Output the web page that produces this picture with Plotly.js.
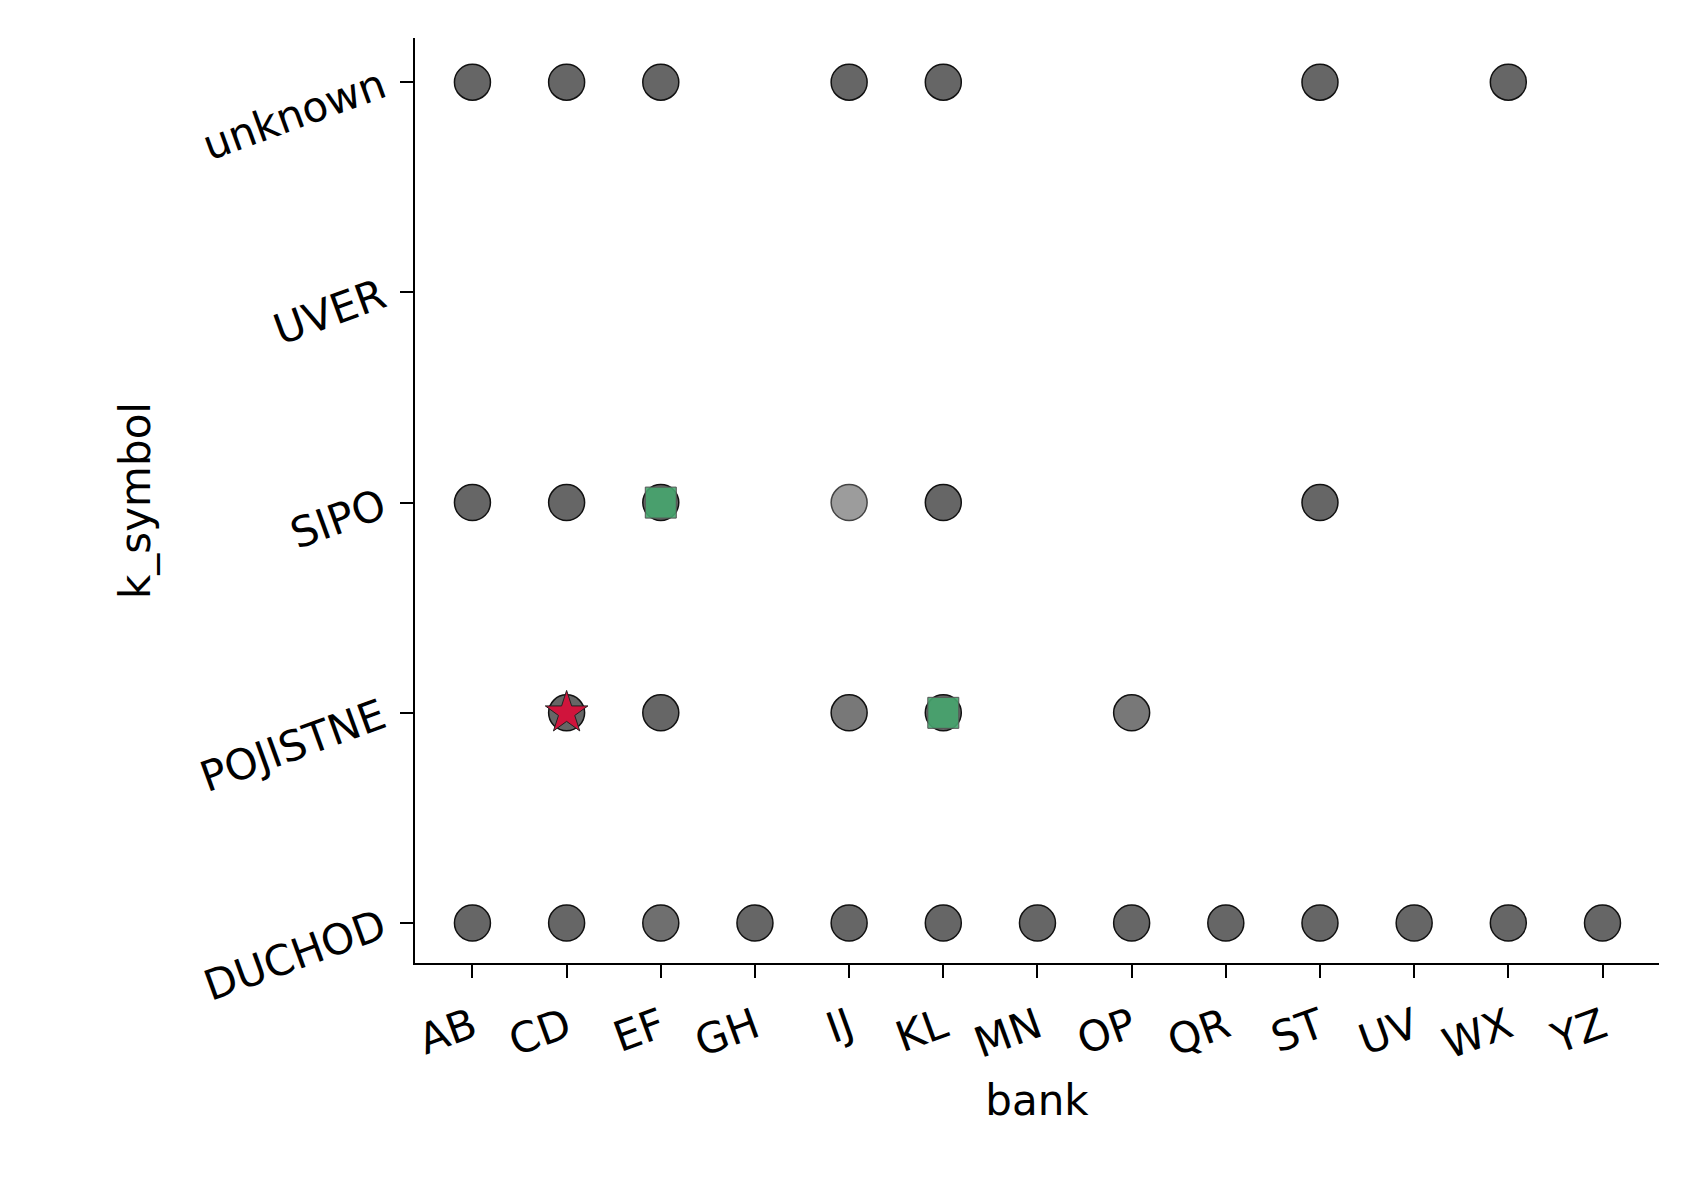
<!DOCTYPE html>
<html>
<head>
<meta charset="utf-8">
<script src="https://cdn.plot.ly/plotly-3.0.1.min.js"></script>
<style>body{margin:0;background:#fff}</style>
</head>
<body>
<div id="chart" style="width:1695px;height:1201px"></div>
<script>
var banks = ['AB','CD','EF','GH','IJ','KL','MN','OP','QR','ST','UV','WX','YZ'];
var symbols = ['DUCHOD','POJISTNE','SIPO','UVER','unknown'];

// gray circles: bank, k_symbol, shade (0..1 darkness)
var circ_bank = ['AB','CD','EF','IJ','KL','ST','WX',
                 'AB','CD','EF','IJ','KL','ST',
                 'CD','EF','IJ','KL','OP',
                 'AB','CD','EF','GH','IJ','KL','MN','OP','QR','ST','UV','WX','YZ'];
var circ_sym = ['unknown','unknown','unknown','unknown','unknown','unknown','unknown',
                'SIPO','SIPO','SIPO','SIPO','SIPO','SIPO',
                'POJISTNE','POJISTNE','POJISTNE','POJISTNE','POJISTNE',
                'DUCHOD','DUCHOD','DUCHOD','DUCHOD','DUCHOD','DUCHOD','DUCHOD','DUCHOD','DUCHOD','DUCHOD','DUCHOD','DUCHOD','DUCHOD'];
var circ_shade = [1,1,1,1,1,1,1,
                  1,1,1,0.65,1,1,
                  1,1,0.88,1,0.88,
                  1,1,0.94,1,1,1,1,1,1,1,1,1,1];

var sq_bank = ['EF','KL'];
var sq_sym = ['SIPO','POJISTNE'];
var star_bank = ['CD'];
var star_sym = ['POJISTNE'];

function grayOf(s) {
  var v = Math.round(255 - s * (255 - 102));
  return 'rgb(' + v + ',' + v + ',' + v + ')';
}

var traces = [
  {x: circ_bank, y: circ_sym, mode: 'markers', type: 'scatter',
   marker: {size: 36, color: circ_shade.map(grayOf),
            line: {color: circ_shade.map(function(s){ return s < 0.7 ? '#444' : '#111'; }), width: 1.5}}},
  {x: sq_bank, y: sq_sym, mode: 'markers', type: 'scatter',
   marker: {symbol: 'square', size: 31, color: 'rgba(70,165,110,0.9)',
            line: {color: '#555', width: 1}}},
  {x: star_bank, y: star_sym, mode: 'markers', type: 'scatter',
   marker: {symbol: 'star', size: 32, color: '#d0143c',
            line: {color: '#222', width: 1}}}
];

var font = {family: 'DejaVu Sans', size: 42, color: '#000'};
var layout = {
  width: 1695, height: 1201, showlegend: false,
  paper_bgcolor: '#fff', plot_bgcolor: '#fff',
  margin: {l: 415, r: 36, t: 38, b: 238},
  font: font,
  xaxis: {type: 'category', categoryorder: 'array', categoryarray: banks,
          range: [-0.61, 12.6], showgrid: false, zeroline: false,
          showline: true, linecolor: '#000', linewidth: 2,
          ticks: 'outside', ticklen: 13, tickwidth: 2, tickcolor: '#000',
          ticklabelstandoff: 8,
          tickangle: -20, tickfont: font,
          title: {text: 'bank', font: font, standoff: 18}},
  yaxis: {type: 'category', categoryorder: 'array', categoryarray: symbols,
          range: [-0.19, 4.21], showgrid: false, zeroline: false,
          showline: true, linecolor: '#000', linewidth: 2,
          ticks: 'outside', ticklen: 13, tickwidth: 2, tickcolor: '#000',
          ticklabelstandoff: 10,
          tickangle: -20, tickfont: font,
          title: {text: 'k_symbol', font: font, standoff: 30}}
};

Plotly.newPlot('chart', traces, layout, {staticPlot: true});
</script>
</body>
</html>
